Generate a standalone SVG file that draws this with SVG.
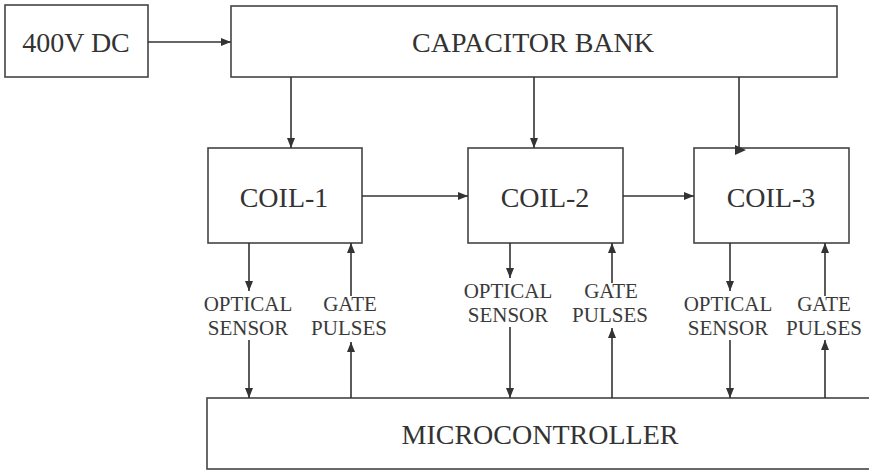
<svg xmlns="http://www.w3.org/2000/svg" width="869" height="471" viewBox="0 0 869 471">
<style>
.box{fill:#fff;stroke:#444;stroke-width:1.6}
.big{font-family:"Liberation Serif","Times New Roman",serif;font-size:28px;fill:#333;text-anchor:middle}
.lbl{font-family:"Liberation Serif","Times New Roman",serif;font-size:21px;fill:#3a3a3a;text-anchor:middle}
.ln{stroke:#333;stroke-width:1.6;fill:none}
.ar{marker-end:url(#ah)}
</style>
<defs>
<marker id="ah" viewBox="0 0 10 10" refX="10" refY="5" markerWidth="10" markerHeight="10" markerUnits="userSpaceOnUse" orient="auto">
<path d="M0,1 L10,5 L0,9 Z" fill="#333"/>
</marker>
</defs>
<rect width="869" height="471" fill="#fff"/>
<g id="dc"><rect class="box" x="5" y="5" width="143" height="72"/><text class="big" x="76" y="52">400V DC</text></g>
<g id="cap"><rect class="box" x="231" y="6" width="606" height="71"/><text class="big" x="533" y="52">CAPACITOR BANK</text></g>
<g id="coil1"><rect class="box" x="208" y="148" width="154" height="95"/><text class="big" x="284" y="207">COIL-1</text></g>
<g id="coil2"><rect class="box" x="468" y="148" width="155" height="95"/><text class="big" x="545" y="207">COIL-2</text></g>
<g id="coil3"><rect class="box" x="694" y="148" width="155" height="95"/><text class="big" x="771" y="207">COIL-3</text></g>
<g id="mcu"><rect class="box" x="207" y="398" width="680" height="71"/><text class="big" x="540" y="444">MICROCONTROLLER</text></g>
<g id="labels">
<text class="lbl" x="248" y="311">OPTICAL</text><text class="lbl" x="248" y="335">SENSOR</text>
<text class="lbl" x="350" y="311">GATE</text><text class="lbl" x="349" y="335">PULSES</text>
<text class="lbl" x="508" y="298">OPTICAL</text><text class="lbl" x="508" y="322">SENSOR</text>
<text class="lbl" x="611" y="298">GATE</text><text class="lbl" x="610" y="322">PULSES</text>
<text class="lbl" x="728" y="311">OPTICAL</text><text class="lbl" x="728" y="335">SENSOR</text>
<text class="lbl" x="824" y="311">GATE</text><text class="lbl" x="824" y="335">PULSES</text>
</g>
<g id="connectors">
<line class="ln ar" x1="148" y1="42" x2="231" y2="42"/>
<line class="ln ar" x1="291" y1="77" x2="291" y2="148"/>
<line class="ln ar" x1="534" y1="77" x2="534" y2="148"/>
<line class="ln" x1="739" y1="77" x2="739" y2="150"/>
<path d="M735,145 L746,150 L735,155 Z" fill="#333"/>
<line class="ln ar" x1="362" y1="196" x2="468" y2="196"/>
<line class="ln ar" x1="623" y1="196" x2="694" y2="196"/>
<line class="ln ar" x1="249" y1="243" x2="249" y2="291"/>
<line class="ln ar" x1="351" y1="296" x2="351" y2="243"/>
<line class="ln ar" x1="249" y1="340" x2="249" y2="398"/>
<line class="ln ar" x1="351" y1="398" x2="351" y2="342"/>
<line class="ln ar" x1="510" y1="243" x2="510" y2="278"/>
<line class="ln ar" x1="612" y1="283" x2="612" y2="243"/>
<line class="ln ar" x1="510" y1="327" x2="510" y2="398"/>
<line class="ln ar" x1="612" y1="398" x2="612" y2="328"/>
<line class="ln ar" x1="730" y1="243" x2="730" y2="291"/>
<line class="ln ar" x1="825" y1="296" x2="825" y2="243"/>
<line class="ln ar" x1="730" y1="340" x2="730" y2="398"/>
<line class="ln ar" x1="825" y1="398" x2="825" y2="340"/>
</g>
</svg>
